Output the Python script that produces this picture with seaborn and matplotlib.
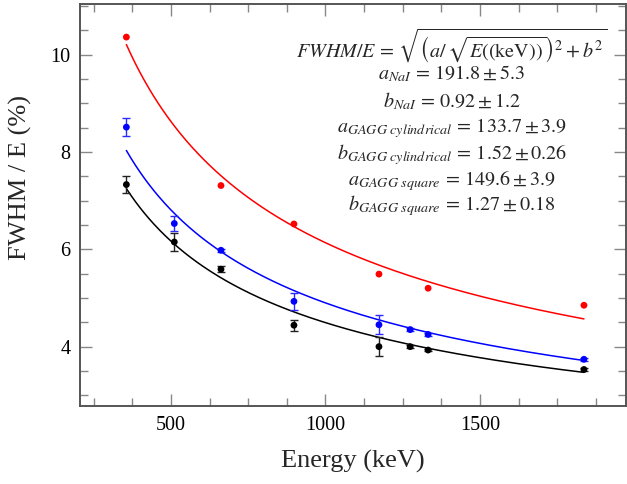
import numpy as np
import pandas as pd
import seaborn as sns
import matplotlib.pyplot as plt
from matplotlib.ticker import MultipleLocator

# measured points (energy in keV, FWHM/E in %)
energy_nai = [356, 662, 898, 1173, 1332, 1836]
res_nai = [10.36, 7.31, 6.52, 5.49, 5.20, 4.85]

energy_gagg = [356, 511, 662, 898, 1173, 1274, 1332, 1836]
res_square = [8.51, 6.53, 5.98, 4.93, 4.45, 4.35, 4.25, 3.74]
err_square = [0.19, 0.15, 0.03, 0.17, 0.19, 0.03, 0.03, 0.03]
res_cyl = [7.33, 6.15, 5.59, 4.44, 4.00, 4.00, 3.93, 3.53]
err_cyl = [0.18, 0.18, 0.06, 0.11, 0.19, 0.03, 0.03, 0.03]

# fit parameters (a, b) shown on the chart
fit_nai = (191.8, 0.92)
fit_cyl = (133.7, 1.52)
fit_square = (149.6, 1.27)

sns.set_theme(style="ticks")
plt.rcParams["font.family"] = ["Liberation Serif", "DejaVu Serif"]
plt.rcParams["mathtext.fontset"] = "stix"

fig = plt.figure(figsize=(6.27, 4.84), dpi=100)
ax = fig.add_axes([80 / 627, 1 - 406 / 484, 546 / 627, 402 / 484])


def fit_curve(a, b):
    e = np.linspace(energy_gagg[0], energy_gagg[-1], 300)
    return pd.DataFrame({"E": e, "R": np.sqrt((a / np.sqrt(e)) ** 2 + b ** 2)})


for (a, b), col in [(fit_nai, "#ff0000"), (fit_square, "#0000ff"), (fit_cyl, "black")]:
    sns.lineplot(data=fit_curve(a, b), x="E", y="R", color=col, lw=1.1, ax=ax)

ax.errorbar(energy_gagg, res_square, yerr=err_square, fmt="none",
            ecolor="#2a2aff", elinewidth=1.0, capsize=2.6, capthick=1.0)
ax.errorbar(energy_gagg, res_cyl, yerr=err_cyl, fmt="none",
            ecolor="#222222", elinewidth=1.0, capsize=2.6, capthick=1.0)

sns.scatterplot(x=energy_nai, y=res_nai, color="#ff0000", s=24, edgecolor="none", ax=ax, zorder=5)
sns.scatterplot(x=energy_gagg, y=res_square, color="#0000ff", s=24, edgecolor="none", ax=ax, zorder=5)
sns.scatterplot(x=energy_gagg, y=res_cyl, color="black", s=24, edgecolor="none", ax=ax, zorder=5)

ax.set_xlim(206, 1972)
ax.set_ylim(2.78, 11.04)
ax.xaxis.set_major_locator(MultipleLocator(500))
ax.xaxis.set_minor_locator(MultipleLocator(125))
ax.yaxis.set_major_locator(MultipleLocator(2))
ax.yaxis.set_minor_locator(MultipleLocator(0.5))
ax.tick_params(which="both", direction="in", top=True, right=True,
               color="#888888", width=1.0, labelsize=14.5, labelcolor="black", pad=7)
ax.tick_params(which="major", length=8.5)
ax.tick_params(which="minor", length=5.5)
for sp in ax.spines.values():
    sp.set_color("#555555")
    sp.set_linewidth(1.4)

ax.set_xlabel("Energy (keV)", fontsize=19)
ax.set_ylabel("FWHM / E (%)", fontsize=19)
ax.xaxis.set_label_coords(0.5, -44 / 402)
ax.yaxis.set_label_coords(-48 / 546, (406 - 177) / 402)

lines = [
    r"$FWHM/E\,=\,\sqrt{\left(a/\,\sqrt{E((\mathrm{keV}))}\right)^2+b^2}$",
    r"$a_{NaI}\,=\,191.8\pm5.3$",
    r"$b_{NaI}\,=\,0.92\pm1.2$",
    r"$a_{GAGG\ cylindrical}\,=\,133.7\pm3.9$",
    r"$b_{GAGG\ cylindrical}\,=\,1.52\pm0.26$",
    r"$a_{GAGG\ square}\,=\,149.6\pm3.9$",
    r"$b_{GAGG\ square}\,=\,1.27\pm0.18$",
]
ys = [46, 74, 101, 128, 155, 181, 206]
for txt, yp in zip(lines, ys):
    fig.text(452 / 627, 1 - yp / 484, txt, ha="center", va="center", fontsize=14.5)

fig.savefig("out.png", dpi=100)
